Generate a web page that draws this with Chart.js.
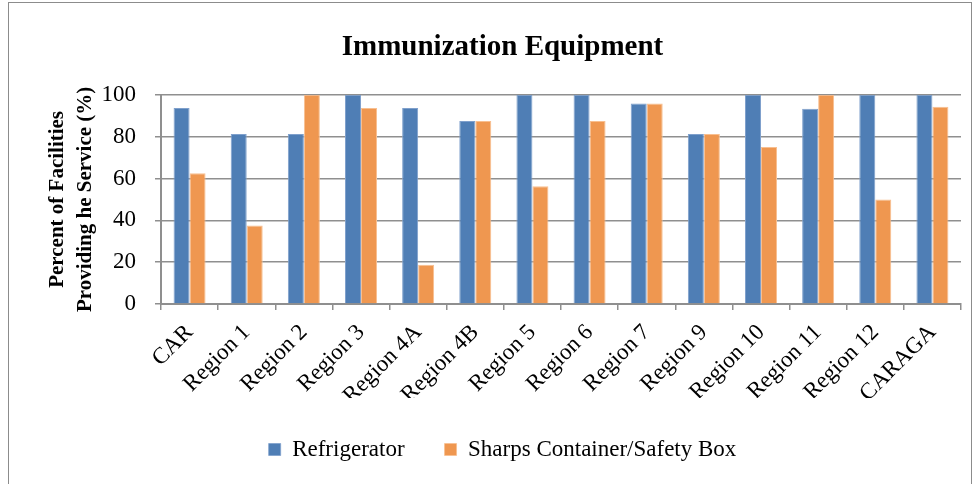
<!DOCTYPE html>
<html>
<head>
<meta charset="utf-8">
<script src="https://cdn.jsdelivr.net/npm/chart.js@4"></script>
<style>
  body { margin: 0; background: #fff; }
  #wrap { position: relative; width: 980px; height: 484px; }
  #frame {
    position: absolute; left: 8px; top: 2px; width: 962px; height: 500px;
    border: 1.5px solid #8c8c8c; pointer-events: none;
  }
</style>
</head>
<body>
<div id="wrap">
  <canvas id="chart" width="980" height="484"></canvas>
  <div id="frame"></div>
</div>
<script>
const regions = ["CAR", "Region 1", "Region 2", "Region 3", "Region 4A", "Region 4B", "Region 5",
  "Region 6", "Region 7", "Region 9", "Region 10", "Region 11", "Region 12", "CARAGA"];
const refrigerator = [93.75, 81.25, 81.25, 100, 93.75, 87.5, 100, 100, 95.8, 81.25, 100, 93.3, 100, 100];
const sharpsBox = [62.5, 37.5, 100, 93.75, 18.75, 87.5, 56.25, 87.5, 95.8, 81.25, 75, 100, 50, 94.3];
const yTicks = [0, 20, 40, 60, 80, 100];

const serif = "'Liberation Serif', 'Times New Roman', serif";
const gridGray = "#8f8f8f";

const ctx = document.getElementById("chart");

new Chart(ctx, {
  type: "bar",
  data: {
    labels: regions,
    datasets: [
      {
        label: "Refrigerator",
        data: refrigerator,
        backgroundColor: "#4F7EB5",
        borderColor: "#7fa0cc",
        borderWidth: { top: 1, left: 1, right: 1, bottom: 0 },
        categoryPercentage: 0.56,
        barPercentage: 1
      },
      {
        label: "Sharps Container/Safety Box",
        data: sharpsBox,
        backgroundColor: "#EF9750",
        borderColor: "#f8bf90",
        borderWidth: { top: 1, left: 1, right: 1, bottom: 0 },
        categoryPercentage: 0.56,
        barPercentage: 1
      }
    ]
  },
  options: {
    responsive: false,
    animation: false,
    layout: { padding: { left: 44, right: 19, top: 0, bottom: 13 } },
    plugins: {
      title: {
        display: true,
        text: "Immunization Equipment",
        color: "#000",
        font: { family: serif, size: 29, weight: "bold" },
        padding: { top: 30, bottom: 30 }
      },
      legend: {
        position: "bottom",
        labels: {
          color: "#000",
          font: { family: serif, size: 23 },
          boxWidth: 12,
          boxHeight: 12,
          padding: 40,
          useBorderRadius: false
        }
      },
      tooltip: { enabled: false }
    },
    scales: {
      x: {
        offset: true,
        grid: {
          offset: true,
          drawOnChartArea: false,
          drawTicks: true,
          tickLength: 6,
          color: gridGray,
          lineWidth: 1.5
        },
        border: { color: gridGray, width: 2 },
        ticks: {
          color: "#000",
          font: { family: serif, size: 23 },
          maxRotation: 45,
          minRotation: 45,
          padding: 9
        },
        afterFit: scale => { scale.height = 94; }
      },
      y: {
        min: 0,
        max: 100,
        afterBuildTicks: scale => { scale.ticks = yTicks.map(v => ({ value: v })); },
        grid: {
          color: gridGray,
          lineWidth: 1.5,
          tickLength: 6
        },
        border: { color: gridGray, width: 2 },
        ticks: {
          color: "#000",
          font: { family: serif, size: 23 },
          padding: 19
        },
        title: {
          display: true,
          text: ["Percent of Facilities", "Providing he Service (%)"],
          color: "#000",
          font: { family: serif, size: 21, weight: "bold", lineHeight: 1.33 },
          padding: { top: 0, bottom: 6 }
        },
        afterFit: scale => { scale.width = 117; }
      }
    }
  }
});
</script>
</body>
</html>
